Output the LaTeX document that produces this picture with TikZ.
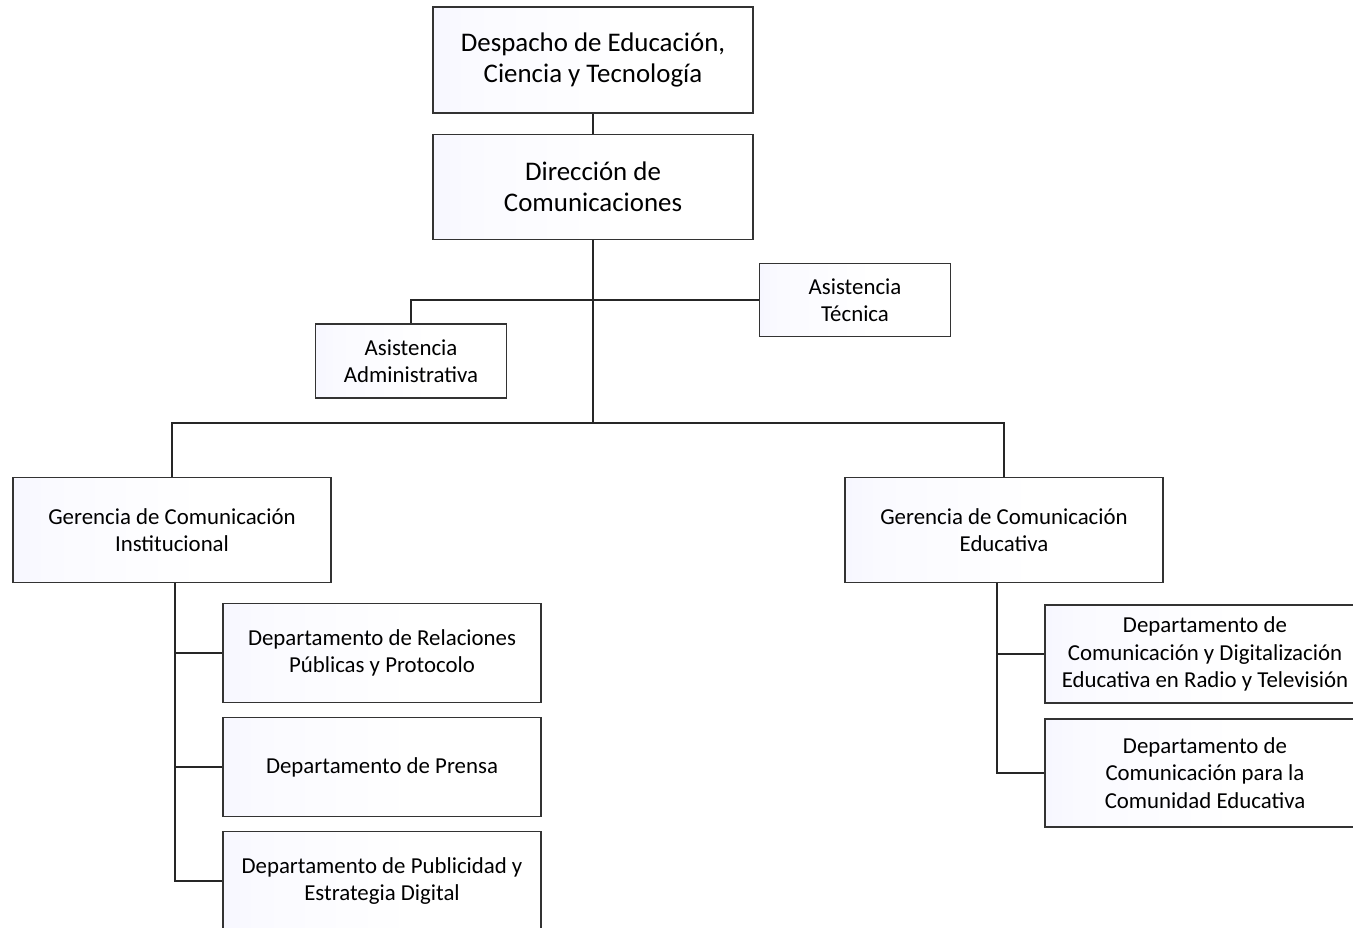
\documentclass[tikz,border=0pt]{standalone}
\usepackage{fontspec}
\setmainfont{Carlito}
\usetikzlibrary{calc}

\pgfdeclarehorizontalshading{boxfade}{100bp}{%
  color(0bp)=(blue!9); color(30bp)=(blue!2); color(55bp)=(white); color(100bp)=(white)}

\tikzset{
  orgbox/.style={draw=black!80, line width=1pt, shading=boxfade, align=center,
    inner sep=2pt, font=\fontsize{13}{15.5}\selectfont},
  link/.style={draw=black!85, line width=1pt},
}

\begin{document}
\begin{tikzpicture}[x=0.02cm,y=-0.02cm]
  \useasboundingbox (0,0) rectangle (1353,928);
  \clip (0,0) rectangle (1353,928);

  %% Head of the chart
  \node[orgbox, minimum width=6.4cm, minimum height=2.12cm,
        font=\fontsize{15.3}{17.5}\selectfont] (DESP) at (593,60)
    {Despacho de Educación,\\Ciencia y Tecnología};
  \node[orgbox, minimum width=6.4cm, minimum height=2.1cm,
        font=\fontsize{15.3}{17.5}\selectfont] (DIR) at (593,187)
    {Dirección de\\Comunicaciones};

  %% Assistance units
  \node[orgbox, minimum width=3.82cm, minimum height=1.46cm] (TEC) at (855,300)
    {Asistencia\\Técnica};
  \node[orgbox, minimum width=3.82cm, minimum height=1.48cm] (ADM) at (411,361)
    {Asistencia\\Administrativa};

  %% Managements
  \node[orgbox, minimum width=6.36cm, minimum height=2.1cm] (GCI) at (172,530)
    {Gerencia de Comunicación\\Institucional};
  \node[orgbox, minimum width=6.36cm, minimum height=2.1cm] (GCE) at (1004,530)
    {Gerencia de Comunicación\\Educativa};

  %% Departments
  \node[orgbox, minimum width=6.36cm, minimum height=1.98cm] (DRP) at (382,653)
    {Departamento de Relaciones\\Públicas y Protocolo};
  \node[orgbox, minimum width=6.36cm, minimum height=1.98cm] (DPR) at (382,767)
    {Departamento de Prensa};
  \node[orgbox, minimum width=6.36cm, minimum height=1.98cm] (DPU) at (382,881)
    {Departamento de Publicidad y\\Estrategia Digital};
  \node[orgbox, minimum width=6.4cm, minimum height=1.96cm] (DCD) at (1205,654)
    {Departamento de\\Comunicación y Digitalización\\Educativa en Radio y Televisión};
  \node[orgbox, minimum width=6.4cm, minimum height=2.16cm] (DCE) at (1205,773)
    {Departamento de\\Comunicación para la\\Comunidad Educativa};

  %% Connectors
  \coordinate (BUS) at ($(DIR.south)+(0,183)$);
  \coordinate (GCIdown) at ($(GCI.south)+(3,0)$);
  \coordinate (GCEdown) at ($(GCE.south)+(-7,0)$);
  \draw[link] (DESP.south) -- (DIR.north);
  \draw[link] (DIR.south) -- (BUS);
  \draw[link] (ADM.north) |- (TEC.west);
  \draw[link] (GCI.north) |- (BUS) -| (GCE.north);
  \foreach \d in {DRP,DPR,DPU}
    \draw[link] (GCIdown) |- (\d.west);
  \foreach \d in {DCD,DCE}
    \draw[link] (GCEdown) |- (\d.west);
\end{tikzpicture}
\end{document}
